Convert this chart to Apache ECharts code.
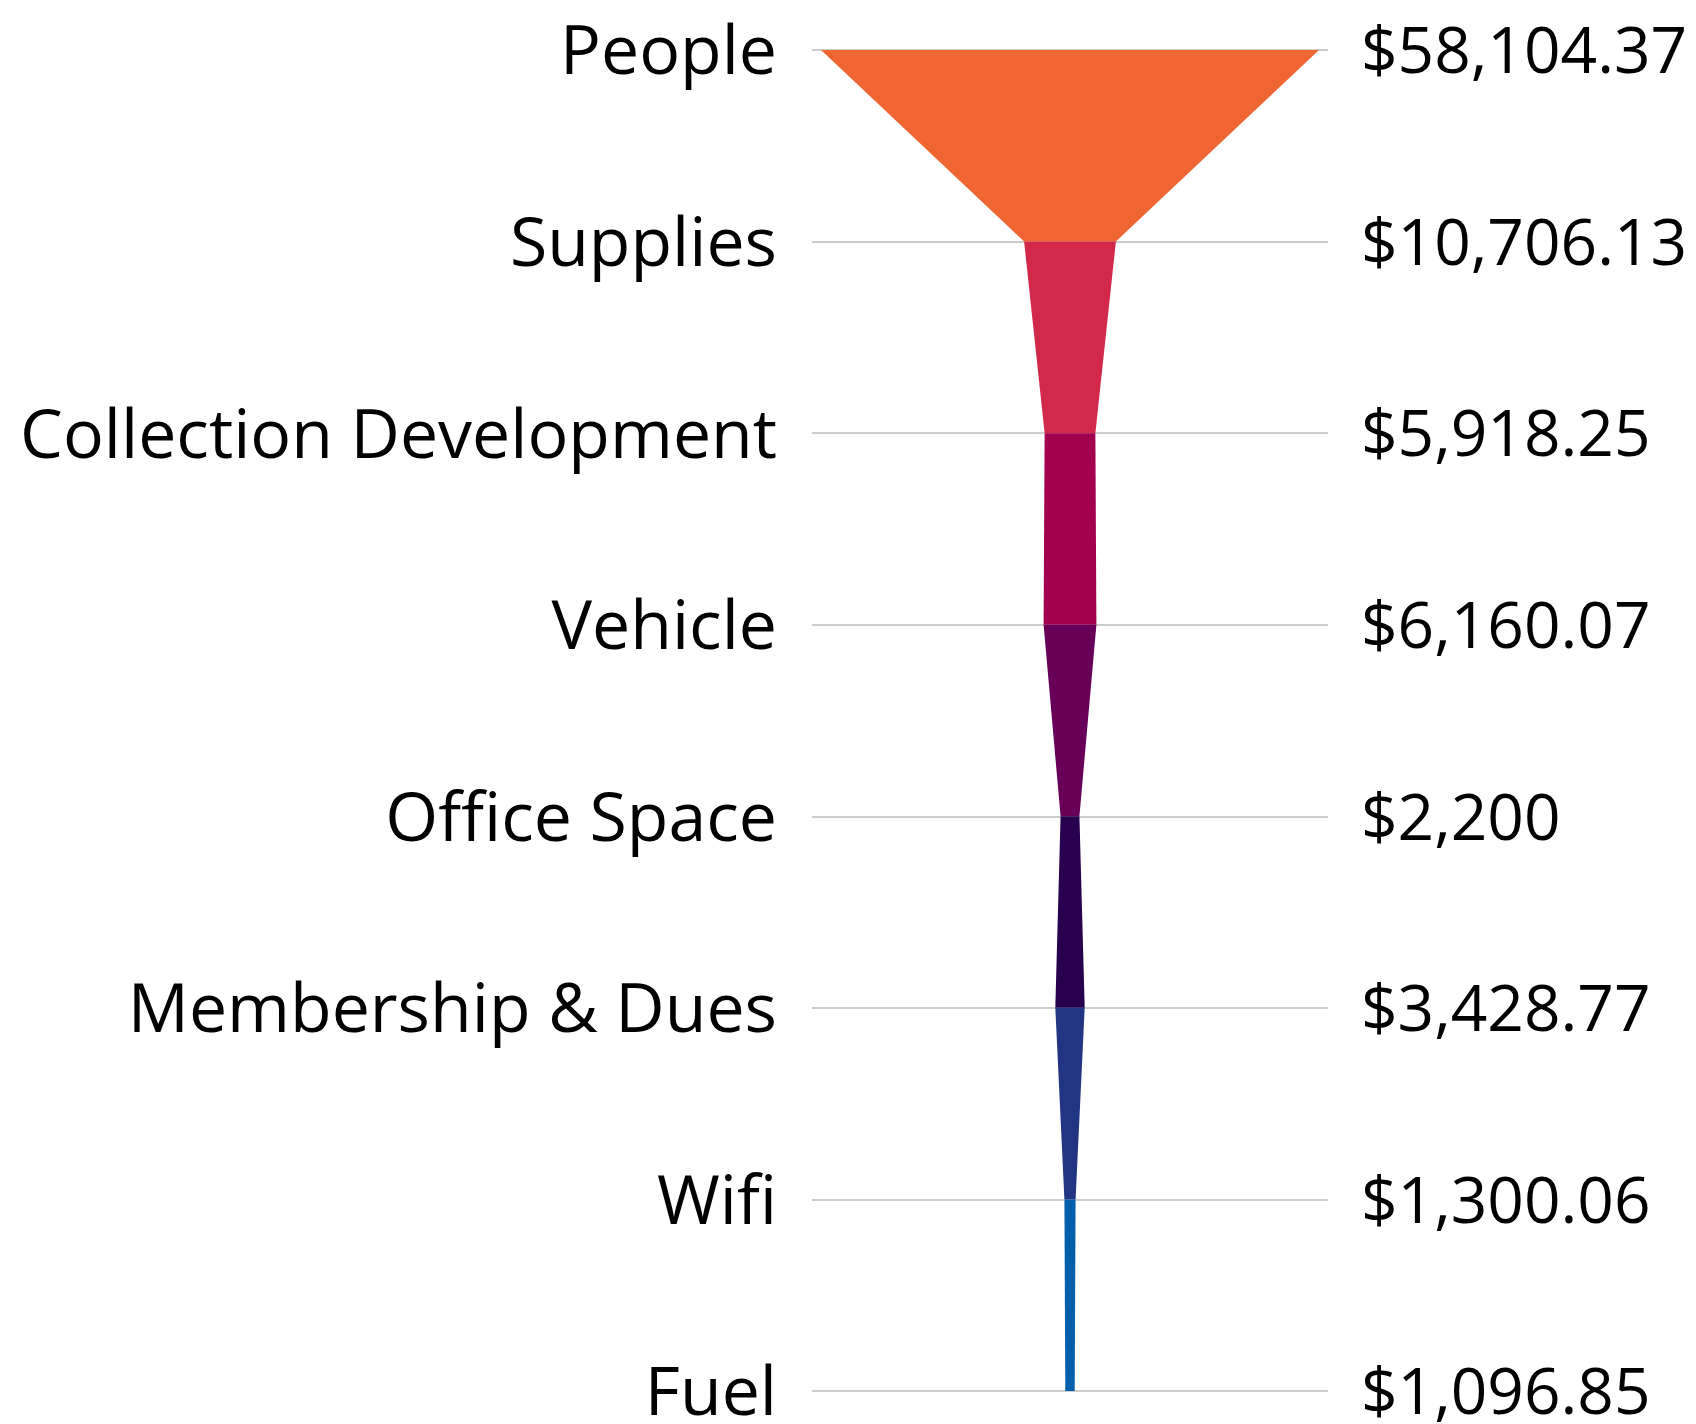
<!DOCTYPE html>
<html>
<head>
<meta charset="utf-8">
<script src="https://cdn.jsdelivr.net/npm/echarts@6/dist/echarts.min.js"></script>
<style>
  html, body { margin: 0; padding: 0; background: #fff; }
  #chart { width: 1696px; height: 1424px; }
</style>
</head>
<body>
<div id="chart"></div>
<script>
const categories = ['People', 'Supplies', 'Collection Development', 'Vehicle', 'Office Space', 'Membership & Dues', 'Wifi', 'Fuel'];
const values = [58104.37, 10706.13, 5918.25, 6160.07, 2200, 3428.77, 1300.06, 1096.85];
const valueLabels = ['$58,104.37', '$10,706.13', '$5,918.25', '$6,160.07', '$2,200', '$3,428.77', '$1,300.06', '$1,096.85'];
const colorList = ['#F06633', '#D2294A', '#A30050', '#68005A', '#28004E', '#223582', '#005FAA', '#005FAA'];

const labelFont = "'Open Sans'";

const chart = echarts.init(document.getElementById('chart'));

// one trapezoid per step, from value i down to value i+1
const segments = values.slice(0, -1).map((v, i) => [i, v, values[i + 1]]);

const option = {
  animation: false,
  grid: { left: 812, right: 368, top: 50, bottom: 33, containLabel: false, outerBoundsMode: 'none' },
  xAxis: {
    type: 'value',
    min: -30100,
    max: 30100,
    show: false
  },
  yAxis: [
    {
      type: 'category',
      data: categories,
      inverse: true,
      boundaryGap: false,
      axisLine: { show: false },
      axisTick: { show: false },
      splitLine: { show: true, lineStyle: { color: '#BDBDBD', width: 1.5 } },
      axisLabel: {
        margin: 35,
        interval: 0,
        formatter: (v) => '{t|' + v + '}',
        rich: {
          t: {
            color: '#000',
            fontSize: 68,
            fontWeight: 500,
            fontFamily: labelFont,
            padding: [10, 0, 0, 0]
          }
        }
      }
    },
    {
      type: 'category',
      data: valueLabels,
      inverse: true,
      boundaryGap: false,
      position: 'right',
      axisLine: { show: false },
      axisTick: { show: false },
      splitLine: { show: false },
      axisLabel: {
        margin: 33,
        interval: 0,
        formatter: (v) => '{t|' + v + '}',
        rich: {
          t: {
            color: '#000',
            fontSize: 64,
            fontWeight: 500,
            fontFamily: labelFont,
            padding: [10, 0, 0, 0]
          }
        }
      }
    }
  ],
  series: [
    {
      type: 'custom',
      yAxisIndex: 0,
      data: segments,
      renderItem: (params, api) => {
        const i = api.value(0);
        const top = api.value(1);
        const bottom = api.value(2);
        const pts = [
          api.coord([-top / 2, i]),
          api.coord([top / 2, i]),
          api.coord([bottom / 2, i + 1]),
          api.coord([-bottom / 2, i + 1])
        ];
        return {
          type: 'polygon',
          shape: { points: pts },
          style: { fill: colorList[i] }
        };
      }
    }
  ]
};

chart.setOption(option);
</script>
</body>
</html>
